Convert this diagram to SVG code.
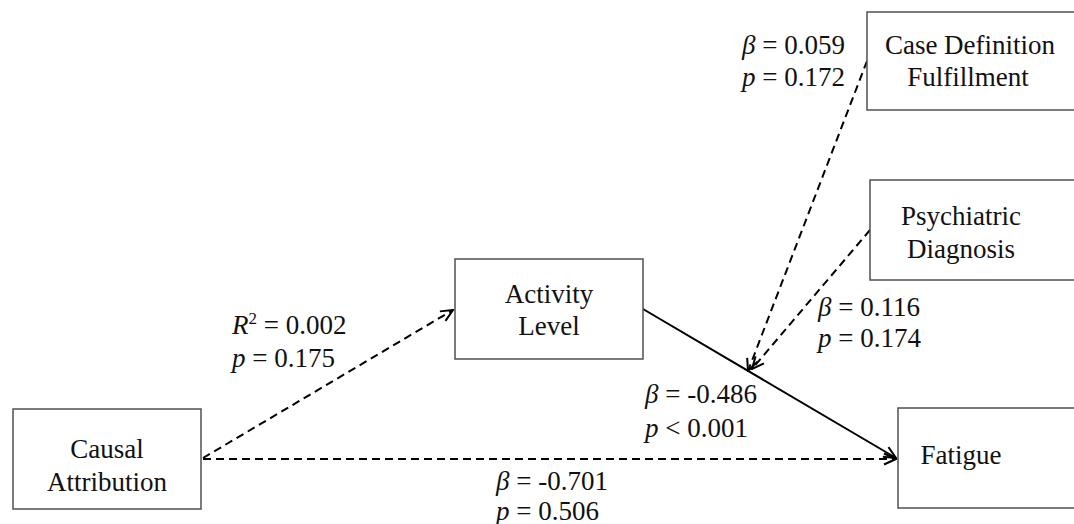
<svg xmlns="http://www.w3.org/2000/svg" width="1074" height="524" viewBox="0 0 1074 524">
  <style>
    .box { fill: #ffffff; stroke: #505050; stroke-width: 1.5; }
    .lbl { font-family: "Liberation Serif", "Times New Roman", serif; font-size: 27px; fill: #111111; }
    .c { text-anchor: middle; }
    .i { font-style: italic; }
    .conn { fill: none; stroke: #000000; stroke-width: 2; }
    .dash { stroke-dasharray: 8 5; }
  </style>
  <defs>
    <marker id="arrow" viewBox="0 0 14 14" refX="13" refY="7" markerWidth="14" markerHeight="14" markerUnits="userSpaceOnUse" orient="auto">
      <path d="M1,1.5 L13,7 L1,12.5" fill="none" stroke="#000000" stroke-width="2" stroke-dasharray="none"/>
    </marker>
  </defs>
  <rect width="1074" height="524" fill="#ffffff"/>

  <g id="connectors">
    <line class="conn dash" x1="203" y1="458" x2="453" y2="310" marker-end="url(#arrow)"/>
    <line class="conn dash" x1="203" y1="459" x2="896" y2="459" marker-end="url(#arrow)"/>
    <line class="conn" x1="643" y1="309" x2="896" y2="458" marker-end="url(#arrow)"/>
    <line class="conn dash" x1="867" y1="61" x2="748" y2="371" marker-end="url(#arrow)"/>
    <line class="conn dash" x1="870" y1="230" x2="752" y2="369" marker-end="url(#arrow)"/>
  </g>

  <g id="causal-attribution">
    <rect class="box" x="13" y="409" width="188" height="100"/>
    <text class="lbl c" x="107" y="458">Causal</text>
    <text class="lbl c" x="107" y="491">Attribution</text>
  </g>
  <g id="activity-level">
    <rect class="box" x="455" y="259" width="188" height="100"/>
    <text class="lbl c" x="549" y="303">Activity</text>
    <text class="lbl c" x="549" y="335">Level</text>
  </g>
  <g id="fatigue">
    <rect class="box" x="898" y="408" width="200" height="100"/>
    <text class="lbl c" x="961" y="464">Fatigue</text>
  </g>
  <g id="case-definition">
    <rect class="box" x="867" y="12" width="230" height="98"/>
    <text class="lbl c" x="970" y="54">Case Definition</text>
    <text class="lbl c" x="968" y="86">Fulfillment</text>
  </g>
  <g id="psychiatric-diagnosis">
    <rect class="box" x="870" y="180" width="230" height="100"/>
    <text class="lbl c" x="961" y="225">Psychiatric</text>
    <text class="lbl c" x="961" y="258">Diagnosis</text>
  </g>

  <g id="edge-labels">
    <text class="lbl" x="742" y="54"><tspan class="i">β</tspan> = 0.059</text>
    <text class="lbl" x="742" y="86"><tspan class="i">p</tspan> = 0.172</text>
    <text class="lbl" x="232" y="334"><tspan class="i">R</tspan><tspan font-size="17" dy="-10">2</tspan><tspan dy="10"> = 0.002</tspan></text>
    <text class="lbl" x="232" y="367"><tspan class="i">p</tspan> = 0.175</text>
    <text class="lbl" x="818" y="316"><tspan class="i">β</tspan> = 0.116</text>
    <text class="lbl" x="818" y="347"><tspan class="i">p</tspan> = 0.174</text>
    <text class="lbl" x="645" y="403"><tspan class="i">β</tspan> = -0.486</text>
    <text class="lbl" x="645" y="437"><tspan class="i">p</tspan> &lt; 0.001</text>
    <text class="lbl" x="496" y="490"><tspan class="i">β</tspan> = -0.701</text>
    <text class="lbl" x="496" y="520"><tspan class="i">p</tspan> = 0.506</text>
  </g>
</svg>
